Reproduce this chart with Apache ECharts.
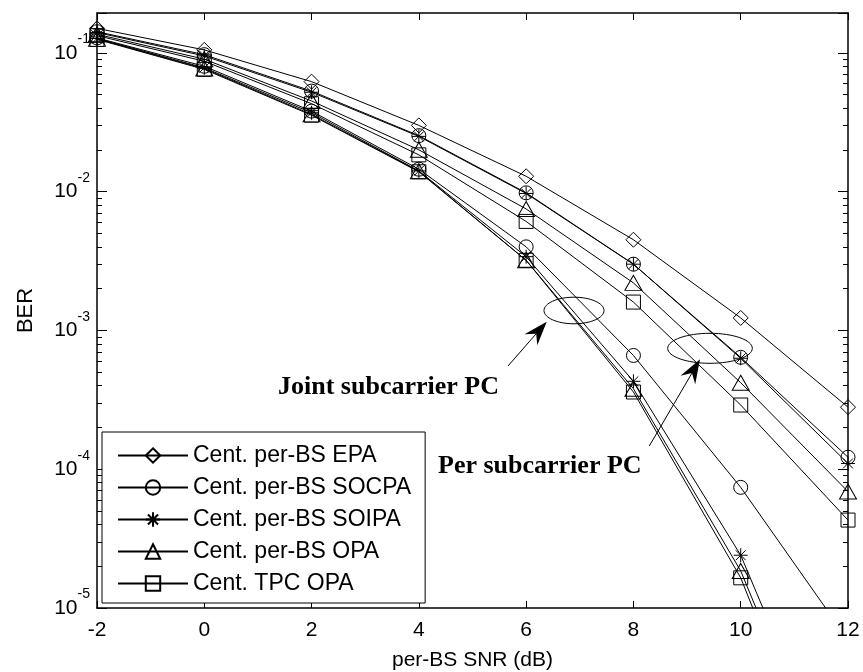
<!DOCTYPE html>
<html>
<head>
<meta charset="utf-8">
<script src="https://cdn.jsdelivr.net/npm/echarts@6/dist/echarts.min.js"></script>
<style>
html,body{margin:0;padding:0;background:#fff;}
#chart{width:863px;height:672px;}
</style>
</head>
<body>
<div id="chart"></div>
<script>
// ---- data ----
const snr = [-2, 0, 2, 4, 6, 8, 10, 12];
const legendNames = ['Cent. per-BS EPA', 'Cent. per-BS SOCPA', 'Cent. per-BS SOIPA', 'Cent. per-BS OPA', 'Cent. TPC OPA'];
// per subcarrier PC group
const perEPA   = [0.150, 0.105, 0.062, 0.0300, 0.0129, 0.0045, 0.00123, 0.00028];
const perSOCPA = [0.142, 0.097, 0.053, 0.0253, 0.0098, 0.0030, 0.00064, 0.000122];
const perSOIPA = [0.140, 0.095, 0.052, 0.0250, 0.0097, 0.0030, 0.00063, 0.000110];
const perOPA   = [0.136, 0.090, 0.045, 0.0200, 0.0075, 0.0022, 0.00042, 0.000069];
const perTPC   = [0.133, 0.087, 0.043, 0.0184, 0.0061, 0.0016, 0.00029, 0.000043];
// joint subcarrier PC group
const jointSOCPA = [0.128, 0.080, 0.038, 0.0145, 0.0040, 0.00066, 0.000074, 0.0000059];
const jointSOIPA = [0.127, 0.078, 0.037, 0.0141, 0.0034, 0.00043, 0.000024, 0.00000035];
const jointOPA   = [0.126, 0.077, 0.036, 0.0140, 0.0032, 0.00038, 0.0000185, 0.00000025];
const jointTPC   = [0.125, 0.076, 0.0355, 0.0139, 0.0032, 0.00036, 0.0000165, 0.00000019];
// axis ticks
const xTicks = [-2, 0, 2, 4, 6, 8, 10, 12];
const yMin = 1e-5, yMax = 0.1936;
const yMajorExp = [-5, -4, -3, -2, -1];
const yMinorMult = [2, 3, 4, 5, 6, 7, 8, 9];

const FONT = '"Liberation Sans", Arial, sans-serif';
const SERIF = '"Liberation Serif", "Times New Roman", serif';

const starPath = 'path://M10 0L10 20M0 10L20 10M3 3L17 17M17 3L3 17';
const symbols = {
  'Cent. per-BS EPA': ['diamond', 15],
  'Cent. per-BS SOCPA': ['circle', 14],
  'Cent. per-BS SOIPA': [starPath, 14],
  'Cent. per-BS OPA': ['triangle', [17, 15]],
  'Cent. TPC OPA': ['rect', 14]
};

function mk(name, vals) {
  const s = symbols[name];
  return {
    type: 'line', name: name, yAxisIndex: 0, xAxisIndex: 0,
    data: snr.map((x, i) => [x, vals[i]]),
    symbol: s[0], symbolSize: s[1], showSymbol: true,
    lineStyle: { color: '#000', width: 1 },
    itemStyle: { color: 'rgba(255,255,255,0)', borderColor: '#000', borderWidth: 1 },
    emphasis: { disabled: true },
    animation: false, clip: true, z: 2
  };
}

const series = [
  mk(legendNames[0], perEPA),
  mk(legendNames[1], perSOCPA),
  mk(legendNames[2], perSOIPA),
  mk(legendNames[3], perOPA),
  mk(legendNames[4], perTPC),
  mk(legendNames[1], jointSOCPA),
  mk(legendNames[2], jointSOIPA),
  mk(legendNames[3], jointOPA),
  mk(legendNames[4], jointTPC)
];

const minorLog = [];
yMajorExp.forEach(e => yMinorMult.forEach(m => {
  const v = m * Math.pow(10, e);
  if (v < yMax) minorLog.push(Math.log10(v));
}));
const logMin = Math.log10(yMin), logMax = Math.log10(yMax);

function yLabel(v) {
  const e = Math.log10(v);
  const r = Math.round(e);
  if (Math.abs(e - r) > 0.01 || yMajorExp.indexOf(r) < 0) return '';
  return '{b|10}{s|' + r + '}';
}

function arrow(x1, y1, x2, y2) {
  const dx = x2 - x1, dy = y2 - y1, len = Math.hypot(dx, dy);
  const ux = dx / len, uy = dy / len, nx = -uy, ny = ux;
  const L = 24, W = 8.5, N = 16;
  return [
    { type: 'line', shape: { x1: x1, y1: y1, x2: x2 - ux * N, y2: y2 - uy * N }, style: { stroke: '#000', lineWidth: 1 }, z: 10 },
    { type: 'polygon', shape: { points: [
      [x2, y2],
      [x2 - ux * L + nx * W, y2 - uy * L + ny * W],
      [x2 - ux * N, y2 - uy * N],
      [x2 - ux * L - nx * W, y2 - uy * L - ny * W]
    ] }, style: { fill: '#000' }, z: 10 }
  ];
}

const chart = echarts.init(document.getElementById('chart'), null, { renderer: 'canvas' });
chart.setOption({
  animation: false,
  backgroundColor: '#fff',
  grid: { left: 97, right: 15, top: 13, bottom: 64, show: false, containLabel: false, outerBoundsMode: 'none' },
  legend: {
    data: legendNames,
    orient: 'vertical',
    left: 102, top: 432,
    padding: [12, 14, 8, 15],
    itemWidth: 70, itemHeight: 18, itemGap: 9,
    backgroundColor: '#fff', borderColor: '#000', borderWidth: 1,
    textStyle: { fontFamily: FONT, fontSize: 23, color: '#000' },
    selectedMode: false,
    z: 20
  },
  xAxis: [
    {
      type: 'value', min: -2, max: 12, interval: 2, position: 'bottom',
      name: 'per-BS SNR (dB)', nameLocation: 'middle', nameGap: 42,
      nameTextStyle: { fontFamily: FONT, fontSize: 21, color: '#000' },
      axisLine: { show: true, onZero: false, lineStyle: { color: '#000', width: 1.5 } },
      axisTick: { show: true, inside: true, length: 7, lineStyle: { color: '#000' } },
      axisLabel: { fontFamily: FONT, fontSize: 21, color: '#000', margin: 12,
        formatter: v => (xTicks.indexOf(v) >= 0 ? String(v) : '') },
      splitLine: { show: false }
    },
    {
      type: 'value', min: -2, max: 12, interval: 2, position: 'top',
      axisLine: { show: true, onZero: false, lineStyle: { color: '#000', width: 1.5 } },
      axisTick: { show: true, inside: true, length: 7, lineStyle: { color: '#000' } },
      axisLabel: { show: false }, splitLine: { show: false }
    }
  ],
  yAxis: [
    {
      type: 'log', logBase: 10, min: yMin, max: yMax, position: 'left',
      name: 'BER', nameLocation: 'middle', nameGap: 60, nameRotate: 90,
      nameTextStyle: { fontFamily: FONT, fontSize: 22, color: '#000' },
      axisLine: { show: true, onZero: false, lineStyle: { color: '#000', width: 1.5 } },
      axisTick: { show: true, inside: true, length: 10, lineStyle: { color: '#000' } },
      axisLabel: {
        margin: 7, formatter: yLabel,
        rich: {
          b: { fontFamily: FONT, fontSize: 21, color: '#000', lineHeight: 41 },
          s: { fontFamily: FONT, fontSize: 14, color: '#000', lineHeight: 14, verticalAlign: 'top' }
        }
      },
      splitLine: { show: false }
    },
    {
      type: 'log', logBase: 10, min: yMin, max: yMax, position: 'right',
      axisLine: { show: true, onZero: false, lineStyle: { color: '#000', width: 1.5 } },
      axisTick: { show: true, inside: true, length: 10, lineStyle: { color: '#000' } },
      axisLabel: { show: false }, splitLine: { show: false }
    },
    {
      type: 'value', min: logMin, max: logMax, position: 'left',
      axisLine: { show: false, onZero: false },
      axisTick: { show: true, inside: true, length: 5, customValues: minorLog, lineStyle: { color: '#000' } },
      axisLabel: { show: false }, splitLine: { show: false }
    },
    {
      type: 'value', min: logMin, max: logMax, position: 'right',
      axisLine: { show: false, onZero: false },
      axisTick: { show: true, inside: true, length: 5, customValues: minorLog, lineStyle: { color: '#000' } },
      axisLabel: { show: false }, splitLine: { show: false }
    }
  ],
  series: series,
  graphic: [
    { type: 'ellipse', shape: { cx: 574, cy: 310.5, rx: 30, ry: 13.3 }, style: { fill: 'none', stroke: '#000', lineWidth: 1 }, z: 10 },
    { type: 'ellipse', shape: { cx: 710, cy: 348.3, rx: 42.3, ry: 15 }, style: { fill: 'none', stroke: '#000', lineWidth: 1 }, z: 10 },
    ...arrow(508, 366, 546.7, 321.7),
    ...arrow(649.3, 446, 700, 359.3),
    { type: 'text', x: 278, y: 387, style: { text: 'Joint subcarrier PC', font: 'bold 26px ' + SERIF, fill: '#000', textAlign: 'left', textVerticalAlign: 'middle' }, z: 10 },
    { type: 'text', x: 438, y: 466, style: { text: 'Per subcarrier PC', font: 'bold 26px ' + SERIF, fill: '#000', textAlign: 'left', textVerticalAlign: 'middle' }, z: 10 }
  ]
});
</script>
</body>
</html>
